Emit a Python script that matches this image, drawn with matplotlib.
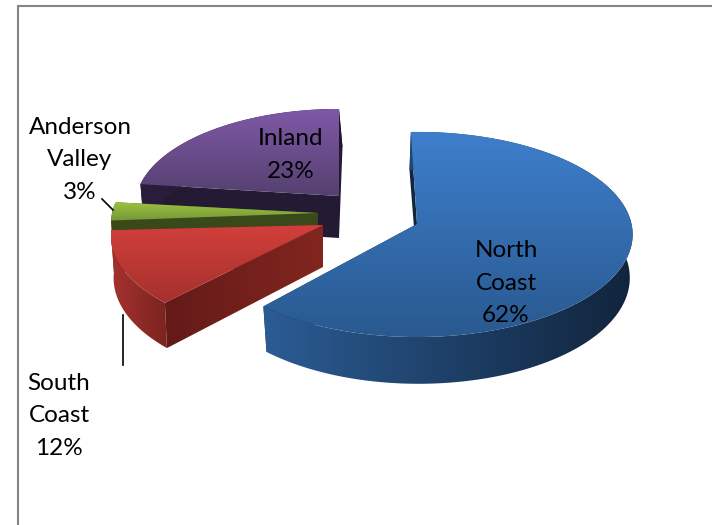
import numpy as np
import matplotlib
matplotlib.use("Agg")
import matplotlib.pyplot as plt
from matplotlib.colors import LinearSegmentedColormap
from matplotlib.patches import Polygon

plt.rcParams['font.family'] = ['Lato', 'DejaVu Sans']

# data, clockwise from 12 o'clock
labels = ["North\nCoast", "South\nCoast", "Anderson\nValley", "Inland"]
values = [62, 12, 3, 23]

# pie geometry in pixels
apex_x = [417, 323, 318, 339]
apex_y = [224, 225, 213, 196]
scale = [1.0, 0.985, 0.96, 0.945]
lean = [-1.5, 0, 0, 3.5]
turn = [-1.0, 1.5, 0, 0.8]  # small per-slice rotation, degrees
rx, ry, persp, depth, start = 214.5, 101.5, 0.102, 42, -0.8

top_cols = [("#3e7fcd", "#29598f"), ("#d13f3b", "#a5302c"), ("#9bc23f", "#76963a"), ("#8059a8", "#54406f")]
wall_cols = [("#2b5c94", "#11243c"), ("#a5322e", "#7a2320"), ("#39491a", "#39491a"), ("#2a1e3c", "#1f1730")]
cut_cols = [("#13263f", "#13263f"), ("#641a18", "#82261f"), ("#39491a", "#39491a"), ("#241a33", "#241a33")]

label_x = [506, 59, 80, 291]
label_y = [283, 416, 160, 155]


def project(i, th):
    s = scale[i] / (1 + persp * np.cos(th))
    return apex_x[i] + rx * np.sin(th) * s, apex_y[i] - ry * np.cos(th) * s


def lower(i, x, y, th):
    # same point on the underside of the slice
    s = 1 / (1 + persp * np.cos(th))
    return x + lean[i] * np.cos(th) - 3 * np.sin(th), y + depth * s


def fill_grad(ax, pts, c0, c1, vertical):
    cmap = LinearSegmentedColormap.from_list("g", [c0, c1])
    x0, y0 = pts.min(axis=0)
    x1, y1 = pts.max(axis=0)
    grad = np.linspace(0, 1, 256)
    grad = grad[:, None] if vertical else grad[None, :]
    im = ax.imshow(grad, cmap=cmap, extent=(x0, x1, y1, y0), aspect="auto", zorder=2, interpolation="bilinear")
    patch = Polygon(pts, closed=True, transform=ax.transData, fc="none", ec="none")
    ax.add_patch(patch)
    im.set_clip_path(patch)


fig = plt.figure(figsize=(7.12, 5.25), dpi=100)
ax = fig.add_axes([0, 0, 1, 1])

# slices back to front
fracs = np.array(values) / sum(values) * 2 * np.pi
starts = np.radians(start) + np.concatenate([[0], np.cumsum(fracs)[:-1]])
for i in [3, 2, 1, 0]:
    th0 = starts[i] + np.radians(turn[i])
    th = np.linspace(th0, th0 + fracs[i], 200)
    x, y = project(i, th)
    bx, by = lower(i, x, y, th)
    ax0, ay0 = apex_x[i], apex_y[i]
    bax, bay = ax0, ay0 + depth

    # flat walls along both cut edges
    wall_a = np.array([[ax0, ay0], [x[0], y[0]], [bx[0], by[0]], [bax, bay]])
    wall_b = np.array([[ax0, ay0], [x[-1], y[-1]], [bx[-1], by[-1]], [bax, bay]])
    fill_grad(ax, wall_b, cut_cols[i][0], cut_cols[i][1], False)
    fill_grad(ax, wall_a, cut_cols[i][0], cut_cols[i][1], False)

    # outer wall
    outer = np.vstack([np.column_stack([x, y]), np.column_stack([bx, by])[::-1]])
    fill_grad(ax, outer, wall_cols[i][0], wall_cols[i][1], False)

    # top face
    top = np.vstack([[ax0, ay0], np.column_stack([x, y])])
    fill_grad(ax, top, top_cols[i][0], top_cols[i][1], True)

# frame and leader lines
ax.plot([18, 18, 712], [525, 6, 6], color="#868686", lw=1.5, zorder=3, solid_joinstyle="miter")
ax.plot([102, 113], [199, 210], color="black", lw=1.2, zorder=4)
ax.plot([123, 123], [315, 365], color="black", lw=1.2, zorder=4)

for i in range(4):
    ax.text(label_x[i], label_y[i], f"{labels[i]}\n{values[i]}%", ha="center", va="center",
            fontsize=17.5, color="black", linespacing=1.7, zorder=5)

ax.set_xlim(0, 712)
ax.set_ylim(525, 0)
ax.axis("off")
fig.savefig("out.png", dpi=100)
